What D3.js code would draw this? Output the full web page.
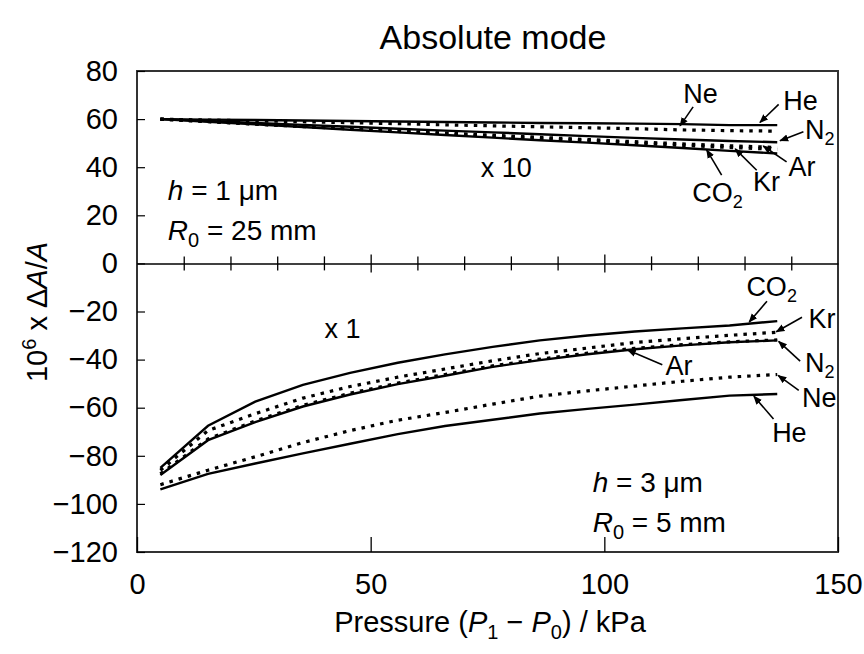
<!DOCTYPE html>
<html>
<head>
<meta charset="utf-8">
<script src="https://cdn.jsdelivr.net/npm/d3@7"></script>
<style>
body { margin: 0; background: #fff; }
text { font-family: "Liberation Sans", Arial, sans-serif; fill: #000; }
</style>
</head>
<body>
<svg id="chart" width="864" height="654"></svg>
<script>
// pressure steps (kPa)
var pressure = [5, 15.2, 25.3, 35.5, 45.6, 55.8, 65.9, 76.1, 86.2, 96.4, 106.5, 116.7, 126.8, 137];

// upper panel, h = 1 um, R0 = 25 mm (values x 10)
var topHe  = [60, 59.8, 59.6, 59.4, 59.2, 59.0, 58.8, 58.6, 58.4, 58.3, 58.1, 57.9, 57.5, 57.5];
var topNe  = [60, 59.6, 59.3, 58.9, 58.5, 58.1, 57.6, 57.2, 56.8, 56.4, 56.0, 55.5, 55.2, 55.0];
var topN2  = [60, 59.2, 58.4, 57.6, 56.8, 56.0, 55.2, 54.5, 53.7, 52.9, 52.2, 51.5, 50.9, 50.4];
var topAr  = [60, 59.0, 58.0, 57.0, 56.1, 55.1, 54.2, 53.3, 52.4, 51.5, 50.6, 49.7, 48.9, 48.2];
var topKr  = [60, 58.9, 57.9, 56.9, 55.9, 54.9, 53.9, 52.9, 51.9, 51.0, 50.0, 49.1, 48.2, 47.4];
var topCO2 = [60, 58.9, 57.8, 56.7, 55.6, 54.5, 53.4, 52.3, 51.2, 50.2, 49.1, 48.0, 46.8, 45.7];

// lower panel, h = 3 um, R0 = 5 mm (values x 1)
var botCO2 = [-85, -67.5, -57.5, -50.5, -45.5, -41.3, -37.8, -34.7, -32, -30, -28.3, -27, -25.8, -24];
var botKr  = [-86, -69.5, -62.5, -56, -51.2, -47.3, -43.9, -40.5, -37.5, -35.2, -32.9, -31.3, -29.9, -28.6];
var botN2  = [-88, -73.5, -66, -59.5, -54.5, -50.2, -46.7, -43, -40.2, -37.8, -35.7, -34.1, -32.8, -32];
var botAr  = [-87.5, -73, -65.5, -59, -54, -49.8, -46.2, -42.6, -39.8, -37.3, -35.3, -33.8, -32.6, -31.8];
var botNe  = [-92, -86, -80.4, -74.5, -69.5, -65.2, -62, -58.5, -55.2, -53, -51, -49, -47.3, -46.2];
var botHe  = [-94, -87.5, -83.2, -79, -75, -71, -67.6, -65, -62.4, -60.5, -58.7, -56.8, -55, -54.3];

var yTicks = [80, 60, 40, 20, 0, -20, -40, -60, -80, -100, -120];
var xTicks = [0, 50, 100, 150];
var zeroTicks = [10, 20, 30, 40, 50, 60, 70, 80, 90, 100, 110, 120, 130, 140];

var series = [
  {name: "He",  values: topHe,  dotted: false},
  {name: "Ne",  values: topNe,  dotted: true},
  {name: "N2",  values: topN2,  dotted: false},
  {name: "Ar",  values: topAr,  dotted: true},
  {name: "Kr",  values: topKr,  dotted: true},
  {name: "CO2", values: topCO2, dotted: false},
  {name: "CO2", values: botCO2, dotted: false},
  {name: "Kr",  values: botKr,  dotted: true},
  {name: "N2",  values: botN2,  dotted: false},
  {name: "Ar",  values: botAr,  dotted: true},
  {name: "Ne",  values: botNe,  dotted: true},
  {name: "He",  values: botHe,  dotted: false}
];

// gas labels: text centre, arrow tail, arrow tip (data units)
var labels = [
  {t: "Ne", s: "",  tx: 120.6, ty: 71,    x1: 119,   y1: 65.1,  x2: 116.2, y2: 57.2},
  {t: "He", s: "",  tx: 142,   ty: 67.9,  x1: 137.3, y1: 66.1,  x2: 133.3, y2: 58.6},
  {t: "N",  s: "2", tx: 146.1, ty: 55.8,  x1: 142.6, y1: 54.7,  x2: 137.6, y2: 51},
  {t: "Ar", s: "",  tx: 142.3, ty: 40.4,  x1: 139,   y1: 42.2,  x2: 134,   y2: 48.8},
  {t: "Kr", s: "",  tx: 134.7, ty: 34.2,  x1: 132.6, y1: 38.75, x2: 128,   y2: 47.6},
  {t: "CO", s: "2", tx: 124.2, ty: 29.6,  x1: 125.1, y1: 36.7,  x2: 121.9, y2: 47.2},
  {t: "CO", s: "2", tx: 135.8, ty: -9.6,  x1: 134.8, y1: -15.7, x2: 131,   y2: -24.4},
  {t: "Kr", s: "",  tx: 146.6, ty: -22.7, x1: 142.3, y1: -22.4, x2: 136.8, y2: -28.4},
  {t: "N",  s: "2", tx: 146.1, ty: -40.8, x1: 141.9, y1: -40.6, x2: 137.3, y2: -32.4},
  {t: "Ar", s: "",  tx: 116,   ty: -42.1, x1: 112.4, y1: -42.1, x2: 105,   y2: -36},
  {t: "Ne", s: "",  tx: 146,   ty: -55.6, x1: 141.6, y1: -52.8, x2: 137.2, y2: -46.6},
  {t: "He", s: "",  tx: 139.6, ty: -70,   x1: 136.2, y1: -64.7, x2: 132,   y2: -55.2}
];

var svg = d3.select('#chart');

var x = d3.scaleLinear().domain([0, 150]).range([137, 838]);
var y = d3.scaleLinear().domain([-120, 80]).range([552, 71]);

svg.append('defs').append('marker')
    .attr('id', 'arrow')
    .attr('viewBox', '0 0 10 10')
    .attr('refX', 9).attr('refY', 5)
    .attr('markerWidth', 9).attr('markerHeight', 9)
    .attr('markerUnits', 'userSpaceOnUse')
    .attr('orient', 'auto')
  .append('path')
    .attr('d', 'M0,1 L10,5 L0,9 Z')
    .attr('fill', '#000');

// title
svg.append('text')
    .attr('x', 493).attr('y', 49)
    .attr('text-anchor', 'middle')
    .style('font-size', '34px')
    .text('Absolute mode');

// frame
svg.append('rect')
    .attr('x', x(0)).attr('y', y(80))
    .attr('width', x(150) - x(0)).attr('height', y(-120) - y(80))
    .attr('fill', 'none').attr('stroke', '#333').attr('stroke-width', 2);

// left axis, ticks inward
var yAxis = svg.append('g')
    .attr('transform', `translate(${x(0)},0)`)
    .call(d3.axisLeft(y).tickValues(yTicks).tickSize(-8).tickPadding(19)
        .tickFormat(d => d < 0 ? '\u2212' + Math.abs(d) : d));
yAxis.select('.domain').remove();
yAxis.selectAll('line').attr('stroke', '#000').attr('stroke-width', 1.2);
yAxis.selectAll('text').style('font-size', '29px').attr('fill', '#000')
    .style('font-family', '"Liberation Sans", Arial, sans-serif');

// bottom axis, major ticks inward
var xAxis = svg.append('g')
    .attr('transform', `translate(0,${y(-120)})`)
    .call(d3.axisBottom(x).tickValues(xTicks).tickSize(-15).tickPadding(21));
xAxis.select('.domain').remove();
xAxis.selectAll('line').attr('stroke', '#000').attr('stroke-width', 1.3);
xAxis.selectAll('text').style('font-size', '29px').attr('fill', '#000')
    .style('font-family', '"Liberation Sans", Arial, sans-serif');

// zero line with ticks crossing it
var zAxis = svg.append('g')
    .attr('transform', `translate(0,${y(0)})`)
    .call(d3.axisBottom(x).tickValues(zeroTicks).tickSize(0).tickFormat(''));
zAxis.select('.domain').attr('stroke', '#000').attr('stroke-width', 1.5);
zAxis.selectAll('.tick line')
    .attr('y1', d => d % 50 === 0 ? -9 : -7)
    .attr('y2', d => d % 50 === 0 ? 9 : 7)
    .attr('stroke', '#000').attr('stroke-width', 1.3);

// curves
var line = d3.line()
    .x((d, i) => x(pressure[i]))
    .y(d => y(d));

svg.selectAll('path.curve')
    .data(series)
    .enter()
    .append('path')
    .attr('class', 'curve')
    .attr('d', d => line(d.values))
    .attr('fill', 'none')
    .attr('stroke', '#000')
    .attr('stroke-width', d => d.dotted ? 3.2 : 2.4)
    .attr('stroke-dasharray', d => d.dotted ? '3.5,6' : null);

// arrows
svg.selectAll('line.arrow')
    .data(labels)
    .enter()
    .append('line')
    .attr('class', 'arrow')
    .attr('x1', d => x(d.x1)).attr('y1', d => y(d.y1))
    .attr('x2', d => x(d.x2)).attr('y2', d => y(d.y2))
    .attr('stroke', '#000').attr('stroke-width', 1.6)
    .attr('marker-end', 'url(#arrow)');

var gasText = svg.selectAll('text.gas')
    .data(labels)
    .enter()
    .append('text')
    .attr('class', 'gas')
    .attr('x', d => x(d.tx))
    .attr('y', d => y(d.ty) + 10)
    .attr('text-anchor', 'middle')
    .style('font-size', '27px');
gasText.append('tspan').text(d => d.t);
gasText.append('tspan')
    .attr('dy', 6)
    .style('font-size', '18px')
    .text(d => d.s);

// scale factors
svg.append('text').attr('x', x(79)).attr('y', y(40) + 10)
    .attr('text-anchor', 'middle').style('font-size', '27px').text('x 10');
svg.append('text').attr('x', x(44)).attr('y', y(-27) + 10)
    .attr('text-anchor', 'middle').style('font-size', '27px').text('x 1');

// panel parameters
function params(px, py, hval, rval) {
  var t1 = svg.append('text').attr('x', px).attr('y', py).style('font-size', '28px');
  t1.append('tspan').style('font-style', 'italic').text('h');
  t1.append('tspan').text(' = ' + hval + ' \u03bcm');
  var t2 = svg.append('text').attr('x', px).attr('y', py + 40).style('font-size', '28px');
  t2.append('tspan').style('font-style', 'italic').text('R');
  t2.append('tspan').attr('dy', 7).style('font-size', '20px').text('0');
  t2.append('tspan').attr('dy', -7).text(' = ' + rval + ' mm');
}
params(x(6.6), y(26.5), 1, 25);
params(x(97.5), y(-95), 3, 5);

// x axis title
var xt = svg.append('text').attr('x', 490).attr('y', 632)
    .attr('text-anchor', 'middle').style('font-size', '29px');
xt.append('tspan').text('Pressure (');
xt.append('tspan').style('font-style', 'italic').text('P');
xt.append('tspan').attr('dy', 7).style('font-size', '20px').text('1');
xt.append('tspan').attr('dy', -7).text(' \u2212 ');
xt.append('tspan').style('font-style', 'italic').text('P');
xt.append('tspan').attr('dy', 7).style('font-size', '20px').text('0');
xt.append('tspan').attr('dy', -7).text(') / kPa');

// y axis title
var yt = svg.append('text')
    .attr('transform', 'translate(47,312) rotate(-90)')
    .attr('text-anchor', 'middle').style('font-size', '29px');
yt.append('tspan').text('10');
yt.append('tspan').attr('dy', -11).style('font-size', '20px').text('6');
yt.append('tspan').attr('dy', 11).text(' x \u0394');
yt.append('tspan').style('font-style', 'italic').text('A');
yt.append('tspan').text('/');
yt.append('tspan').style('font-style', 'italic').text('A');
</script>
</body>
</html>
